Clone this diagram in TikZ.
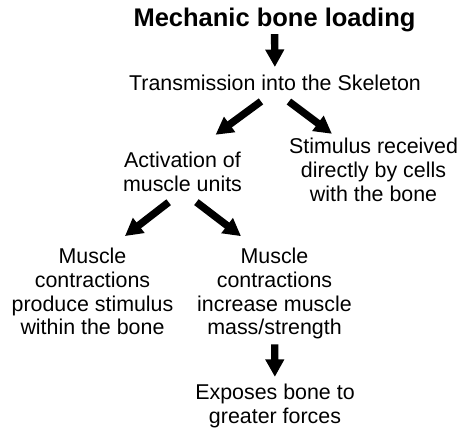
\documentclass[tikz,border=0pt]{standalone}
\usepackage{fontspec}
\setmainfont{Liberation Sans}
\usetikzlibrary{arrows.meta,positioning}

\begin{document}
\begin{tikzpicture}[x=1pt,y=-1pt,
  txt/.style={font=\fontsize{21.4}{23.7}\selectfont,align=center,inner sep=0pt},
  head/.style={font=\fontsize{25.5}{28}\selectfont\bfseries,inner sep=0pt},
  fat/.style={line width=7.4pt,-{Triangle[length=17.5pt,width=18pt]}}]
\useasboundingbox (0,0) rectangle (465,429);
\node[head,anchor=base] (load) at (274.5,26) {Mechanic bone loading};
\node[txt,anchor=base] (trans) at (275,90.7) {Transmission into the Skeleton};
\node[txt,anchor=north] (act) at (182.5,151.7) {Activation of\\muscle units};
\node[txt,anchor=north] (stim) at (373.5,138) {Stimulus received\\directly by cells\\with the bone};
\node[txt,anchor=north] (inside) at (92.5,248) {Muscle\\contractions\\produce stimulus\\within the bone};
\node[txt,anchor=north] (mass) at (274.5,248) {Muscle\\contractions\\increase muscle\\mass/strength};
\node[txt,anchor=north] (force) at (275,383.8) {Exposes bone to\\greater forces};
\draw[fat,shorten <=2.6pt,shorten >=8pt] (load) -- (trans);
\draw[fat,shorten <=17.4pt,shorten >=28.6pt] (trans.south) -- ([xshift=10pt]act.north);
\draw[fat,shorten <=17.4pt,shorten >=7pt] (trans.south) -- ([xshift=-36pt]stim.north);
\draw[fat,shorten <=17.5pt,shorten >=19.5pt] (act.south) -- ([xshift=17pt]inside.north);
\draw[fat,shorten <=17.5pt,shorten >=19.5pt] (act.south) -- ([xshift=-18pt]mass.north);
\draw[fat,shorten <=5pt,shorten >=7pt] (mass) -- (force);
\end{tikzpicture}
\end{document}
